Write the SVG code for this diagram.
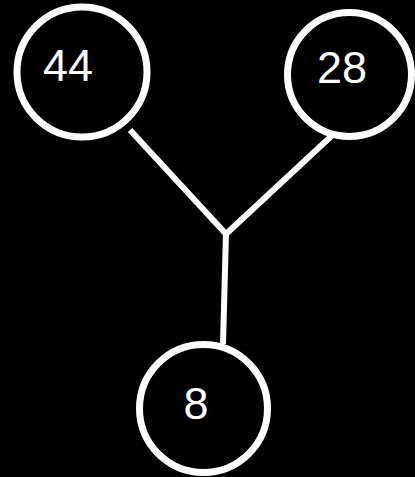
<svg xmlns="http://www.w3.org/2000/svg" width="415" height="477" viewBox="0 0 415 477">
<style>
.node circle{fill:#000;stroke:#fff;stroke-width:7}
.node text{fill:#fff;font-family:"Liberation Sans",Arial,sans-serif;font-size:45px;text-anchor:middle}
.edges line{stroke:#fff;stroke-width:6;stroke-linecap:butt}
</style>
<rect width="415" height="477" fill="#000"/>
<g class="edges">
<line x1="130" y1="130" x2="226" y2="234"/>
<line x1="339" y1="129" x2="226" y2="234"/>
<line x1="226" y1="233" x2="223" y2="344"/>
</g>
<g id="n44" class="node"><circle cx="82" cy="72" r="65"/><text x="68" y="81">44</text></g>
<g id="n28" class="node"><circle cx="349.5" cy="74.5" r="62"/><text x="342" y="83">28</text></g>
<g id="n8" class="node"><circle cx="203.5" cy="408.5" r="64"/><text x="196" y="419">8</text></g>
</svg>
